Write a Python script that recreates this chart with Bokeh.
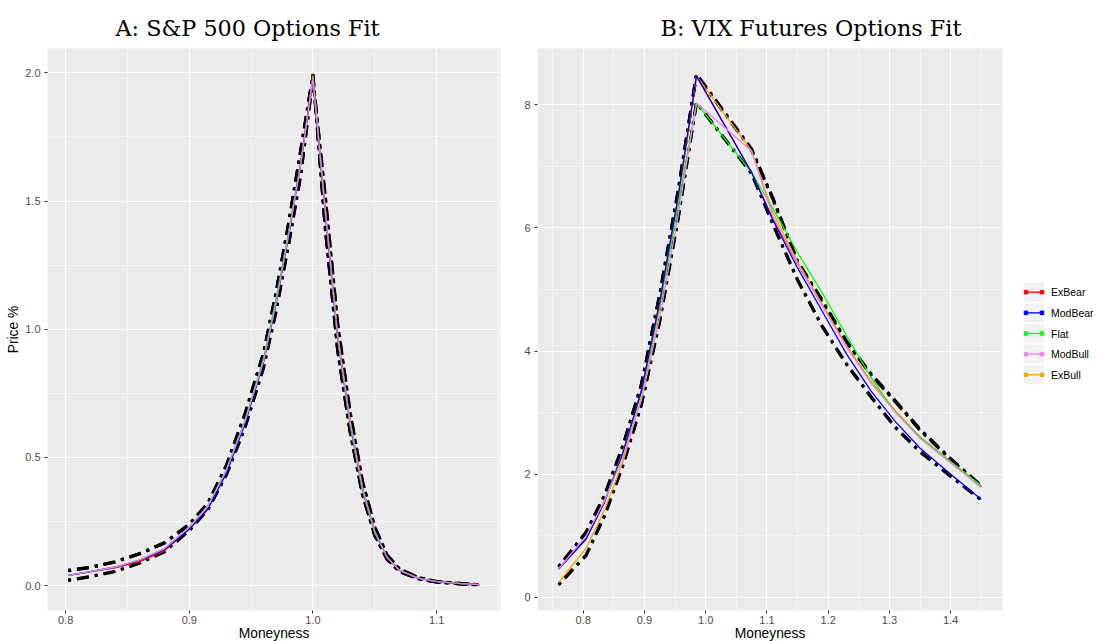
from bokeh.plotting import figure
from bokeh.layouts import row, column
from bokeh.models import Range1d, FixedTicker
from bokeh.embed import file_html
from bokeh.resources import INLINE
from bokeh.core.properties import value

# ---------------- data ----------------
series_names = ["ExBear", "ModBear", "Flat", "ModBull", "ExBull"]
series_colors = ["#FF0000", "#0000FF", "#00FF00", "#EE82EE", "#FFA500"]

# Panel A: S&P 500 options
spx_moneyness = [0.802, 0.82, 0.84, 0.86, 0.88, 0.90, 0.915, 0.93, 0.945, 0.96, 0.97, 0.98, 0.99,
                 1.0, 1.01, 1.02, 1.03, 1.04, 1.05, 1.06, 1.07, 1.085, 1.10, 1.12, 1.135]
spx_fit_exbear = [0.040, 0.054, 0.070, 0.094, 0.136, 0.222, 0.306, 0.447, 0.638, 0.873, 1.100, 1.360, 1.650,
                  1.960, 1.450, 0.965, 0.635, 0.380, 0.210, 0.110, 0.060, 0.030, 0.016, 0.008, 0.004]
spx_fit_modbear = [0.040, 0.055, 0.072, 0.099, 0.141, 0.220, 0.298, 0.438, 0.630, 0.870, 1.095, 1.355, 1.640,
                   1.980, 1.455, 0.968, 0.638, 0.380, 0.210, 0.110, 0.060, 0.030, 0.016, 0.008, 0.004]
spx_fit_flat = [0.040, 0.055, 0.073, 0.101, 0.145, 0.229, 0.312, 0.452, 0.645, 0.885, 1.115, 1.370, 1.645,
                1.970, 1.450, 0.960, 0.625, 0.370, 0.205, 0.110, 0.060, 0.030, 0.016, 0.008, 0.004]
spx_fit_modbull = [0.040, 0.055, 0.073, 0.101, 0.145, 0.228, 0.310, 0.450, 0.640, 0.875, 1.100, 1.360, 1.640,
                   1.980, 1.460, 0.970, 0.640, 0.380, 0.210, 0.110, 0.060, 0.030, 0.016, 0.008, 0.004]
spx_fit_exbull = [0.040, 0.055, 0.073, 0.101, 0.145, 0.228, 0.310, 0.450, 0.640, 0.875, 1.100, 1.360, 1.640,
                  1.990, 1.470, 0.980, 0.645, 0.385, 0.212, 0.110, 0.060, 0.030, 0.016, 0.008, 0.004]
spx_mkt_exbear = [0.060, 0.072, 0.094, 0.126, 0.168, 0.240, 0.322, 0.470, 0.670, 0.908, 1.140, 1.405, 1.695,
                  1.995, 1.390, 0.915, 0.600, 0.355, 0.195, 0.102, 0.055, 0.027, 0.014, 0.007, 0.003]
spx_mkt_modbear = [0.058, 0.071, 0.092, 0.124, 0.166, 0.238, 0.320, 0.467, 0.667, 0.905, 1.137, 1.402, 1.692,
                   1.990, 1.394, 0.919, 0.604, 0.358, 0.197, 0.104, 0.056, 0.028, 0.014, 0.007, 0.003]
spx_mkt_flat = [0.059, 0.072, 0.093, 0.125, 0.167, 0.239, 0.321, 0.469, 0.669, 0.907, 1.139, 1.404, 1.694,
                1.993, 1.392, 0.917, 0.602, 0.356, 0.196, 0.103, 0.055, 0.027, 0.014, 0.007, 0.003]
spx_mkt_modbull = [0.020, 0.035, 0.055, 0.088, 0.132, 0.215, 0.296, 0.432, 0.615, 0.848, 1.065, 1.320, 1.595,
                   1.975, 1.520, 1.025, 0.680, 0.410, 0.230, 0.120, 0.066, 0.033, 0.017, 0.009, 0.004]
spx_mkt_exbull = [0.022, 0.036, 0.056, 0.089, 0.133, 0.216, 0.298, 0.434, 0.618, 0.851, 1.068, 1.324, 1.599,
                  1.980, 1.516, 1.021, 0.677, 0.408, 0.229, 0.119, 0.065, 0.033, 0.016, 0.009, 0.004]

# Panel B: VIX futures options
vix_moneyness = [0.76, 0.805, 0.835, 0.865, 0.895, 0.925, 0.955, 0.985, 1.075,
                 1.11, 1.15, 1.19, 1.23, 1.27, 1.31, 1.35, 1.40, 1.45]
vix_fit_exbear = [0.46, 0.95, 1.55, 2.35, 3.35, 4.80, 6.50, 8.47, 6.90, 6.14, 5.42, 4.75, 4.08, 3.50, 3.02, 2.60, 2.20, 1.79]
vix_fit_modbear = [0.46, 0.95, 1.55, 2.35, 3.35, 4.80, 6.50, 8.47, 6.90, 6.12, 5.35, 4.65, 3.95, 3.35, 2.85, 2.42, 2.00, 1.59]
vix_fit_flat = [0.46, 0.97, 1.57, 2.37, 3.33, 4.75, 6.35, 8.03, 6.90, 6.31, 5.60, 4.95, 4.25, 3.57, 3.00, 2.60, 2.20, 1.81]
vix_fit_modbull = [0.46, 1.00, 1.57, 2.28, 3.20, 4.55, 6.20, 8.03, 7.25, 6.18, 5.42, 4.74, 4.06, 3.48, 3.00, 2.58, 2.18, 1.78]
vix_fit_exbull = [0.24, 0.80, 1.42, 2.20, 3.25, 4.70, 6.40, 8.47, 7.25, 6.25, 5.45, 4.76, 4.08, 3.50, 3.02, 2.60, 2.20, 1.80]
vix_mkt_exbear = [0.50, 1.06, 1.66, 2.46, 3.45, 4.92, 6.60, 8.50, 7.28, 6.48, 5.45, 4.82, 4.15, 3.62, 3.18, 2.72, 2.25, 1.81]
vix_mkt_modbear = [0.49, 1.05, 1.65, 2.45, 3.44, 4.90, 6.58, 8.48, 7.26, 6.46, 5.44, 4.80, 4.14, 3.61, 3.17, 2.71, 2.24, 1.80]
vix_mkt_flat = [0.20, 0.68, 1.32, 2.14, 3.12, 4.48, 6.14, 8.03, 6.88, 6.05, 5.15, 4.40, 3.78, 3.25, 2.75, 2.36, 1.96, 1.58]
vix_mkt_modbull = [0.21, 0.69, 1.33, 2.15, 3.13, 4.49, 6.15, 8.04, 6.89, 6.06, 5.16, 4.41, 3.79, 3.26, 2.76, 2.37, 1.97, 1.58]
vix_mkt_exbull = [0.50, 1.06, 1.66, 2.47, 3.46, 4.93, 6.61, 8.50, 7.28, 6.47, 5.46, 4.83, 4.16, 3.63, 3.19, 2.73, 2.25, 1.81]

# ticks
spx_xticks = [0.8, 0.9, 1.0, 1.1]
spx_xlabels = ["0.8", "0.9", "1.0", "1.1"]
spx_xminor = [0.75, 0.85, 0.95, 1.05, 1.15]
spx_yticks = [0.0, 0.5, 1.0, 1.5, 2.0]
spx_ylabels = ["0.0", "0.5", "1.0", "1.5", "2.0"]
spx_yminor = [-0.25, 0.25, 0.75, 1.25, 1.75, 2.25]
vix_xticks = [0.8, 0.9, 1.0, 1.1, 1.2, 1.3, 1.4]
vix_xlabels = ["0.8", "0.9", "1.0", "1.1", "1.2", "1.3", "1.4"]
vix_xminor = [0.75, 0.85, 0.95, 1.05, 1.15, 1.25, 1.35, 1.45]
vix_yticks = [0, 2, 4, 6, 8]
vix_ylabels = ["0", "2", "4", "6", "8"]
vix_yminor = [-1, 1, 3, 5, 7, 9]

spx_fits = [spx_fit_exbear, spx_fit_modbear, spx_fit_flat, spx_fit_modbull, spx_fit_exbull]
spx_mkts = [spx_mkt_exbear, spx_mkt_modbear, spx_mkt_flat, spx_mkt_modbull, spx_mkt_exbull]
vix_fits = [vix_fit_exbear, vix_fit_modbear, vix_fit_flat, vix_fit_modbull, vix_fit_exbull]
vix_mkts = [vix_mkt_exbear, vix_mkt_modbear, vix_mkt_flat, vix_mkt_modbull, vix_mkt_exbull]

panel_titles = ["A: S&P 500 Options Fit", "B: VIX Futures Options Fit"]
x_title = "Moneyness"
y_title = "Price %"

SANS = "Liberation Sans"
SERIF = "DejaVu Serif"
W = 1099
H = 641
TSTRIP = 48         # strip above the panels holding the panel titles
XSTRIP = 14         # strip under the panels holding the x axis titles
HROW = H - TSTRIP - XSTRIP
BOTTOM = 17
draw_order = [0, 4, 2, 1, 3]

A_W, A_L, A_R = 512, 47, 12
B_W, B_L, B_R = 498, 25, 8
LW = W - A_W - B_W


def expand(vals, frac=0.05):
    lo, hi = min(vals), max(vals)
    pad = (hi - lo) * frac
    return lo - pad, hi + pad


def blank(width, height, y_top, y_bottom):
    f = figure(width=width, height=height, x_range=Range1d(0, width), y_range=Range1d(y_bottom, y_top),
               x_axis_type=None, y_axis_type=None, output_backend="svg", toolbar_location=None,
               min_border=0, title=None)
    f.grid.visible = False
    f.outline_line_color = None
    f.background_fill_color = "white"
    f.border_fill_color = "white"
    return f


def panel(xs, fits, mkts, xt, xl, xm, yt, yl, ym, width, bl, br, ylabel):
    allv = [v for s in fits + mkts for v in s]
    x0, x1 = expand(xs)
    y0, y1 = expand(allv)
    p = figure(width=width, height=HROW, x_range=Range1d(x0, x1), y_range=Range1d(y0, y1),
               output_backend="svg", toolbar_location=None, title=None,
               min_border_left=bl, min_border_right=br, min_border_top=0, min_border_bottom=BOTTOM)
    p.background_fill_color = "#EBEBEB"
    p.border_fill_color = "white"
    p.outline_line_color = None
    p.xaxis.ticker = FixedTicker(ticks=xt, minor_ticks=xm)
    p.yaxis.ticker = FixedTicker(ticks=yt, minor_ticks=ym)
    p.xaxis.major_label_overrides = {t: s for t, s in zip(xt, xl)}
    p.yaxis.major_label_overrides = {t: s for t, s in zip(yt, yl)}
    for g in (p.xgrid, p.ygrid):
        g.grid_line_color = "white"
        g.grid_line_width = 1.2
        g.minor_grid_line_color = "white"
        g.minor_grid_line_width = 0.6
    for ax in (p.xaxis, p.yaxis):
        ax.axis_line_color = None
        ax.major_tick_line_color = "#333333"
        ax.major_tick_in = 0
        ax.major_tick_out = 3
        ax.minor_tick_line_color = None
        ax.major_label_text_color = "#4D4D4D"
        ax.major_label_text_font = SANS
        ax.major_label_text_font_size = "11px"
        ax.axis_label_text_font = SANS
        ax.axis_label_text_font_size = "13.8px"
        ax.axis_label_text_font_style = "normal"
        ax.axis_label_text_color = "black"
    p.xaxis.major_label_standoff = 1
    p.yaxis.major_label_standoff = 3
    if ylabel:
        p.yaxis.axis_label = ylabel
        p.yaxis.axis_label_standoff = 1
    for m in mkts:
        p.line(xs, m, line_color="black", line_width=3, line_dash="3 6 12 6")
    for i in draw_order:
        p.line(xs, fits[i], line_color=series_colors[i], line_width=1.3)
    return p


pa = panel(spx_moneyness, spx_fits, spx_mkts,
           spx_xticks, spx_xlabels, spx_xminor, spx_yticks, spx_ylabels, spx_yminor,
           A_W, A_L, A_R, y_title)
pb = panel(vix_moneyness, vix_fits, vix_mkts,
           vix_xticks, vix_xlabels, vix_xminor, vix_yticks, vix_ylabels, vix_yminor,
           B_W, B_L, B_R, None)

# panel titles strip
tstrip = blank(W, TSTRIP, 0, TSTRIP)
title_left = [115, 660]
tstrip.text(x=title_left, y=[27.5, 27.5], text=panel_titles, text_font=value(SERIF),
            text_font_size="22.3px", text_baseline="alphabetic", text_align="left", text_color="black")

# legend panel (page pixel coordinates, shifted by the title strip)
lg = blank(LW, HROW, 0, HROW)
lg.min_border_bottom = BOTTOM
lg.y_range = Range1d(HROW - BOTTOM, 0)
key_top = 291.7 - TSTRIP
key_step = 20.65
for i, (name, col) in enumerate(zip(series_names, series_colors)):
    yc = key_top + i * key_step
    lg.rect(x=[23.3], y=[yc], width=20, height=19, fill_color="#F2F2F2", line_color=None)
    lg.line([15.5, 31.5], [yc, yc], line_color=col, line_width=1.3)
    lg.scatter([15.5, 31.5], [yc, yc], marker="square", size=3.5, fill_color=col, line_color=col)
    lg.text(x=[40.5], y=[yc], text=[name], text_font=value(SANS), text_font_size="10.5px",
            text_baseline="middle", text_align="left", text_color="black")

# strip with the x axis titles, centred under each panel frame
xstrip = blank(W, XSTRIP, 0, XSTRIP)
centers = [A_L + (A_W - A_L - A_R) / 2, A_W + B_L + (B_W - B_L - B_R) / 2]
xstrip.text(x=centers, y=[6, 6], text=[x_title, x_title], text_font=value(SANS),
            text_font_size="13.8px", text_baseline="middle", text_align="center", text_color="black")

layout = column(tstrip, row(pa, pb, lg), xstrip)
open("out.html", "w").write(file_html(layout, INLINE))
